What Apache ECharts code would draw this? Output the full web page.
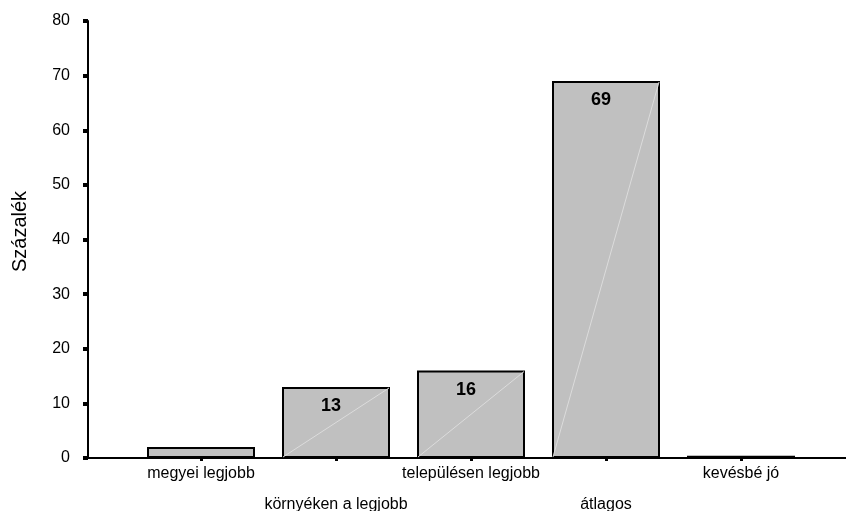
<!DOCTYPE html>
<html><head><meta charset="utf-8">
<script src="https://cdn.jsdelivr.net/npm/echarts@6/dist/echarts.min.js"></script>
<style>html,body{margin:0;padding:0;background:#fff}#c{width:846px;height:511px}</style>
</head><body><div id="c"></div>
<script>
const categories = ['megyei legjobb', 'környéken a legjobb', 'településen legjobb', 'átlagos', 'kevésbé jó'];
const values = [2, 13, 16, 69, 0.4];
const shownLabels = [false, true, true, true, false];
const yTicks = [0, 10, 20, 30, 40, 50, 60, 70, 80];
const yName = 'Százalék';

const FONT = 'Liberation Sans, Arial, sans-serif';
const chart = echarts.init(document.getElementById('c'), null, {renderer: 'canvas'});
const BW = 108;
chart.setOption({
  animation: false,
  grid: [
    {left: 133.5, right: 37.5, top: 21, bottom: 53, containLabel: false, outerBoundsMode: 'none'},
    {left: 88, right: 0, top: 21, bottom: 53, containLabel: false, outerBoundsMode: 'none'}
  ],
  xAxis: [
    {type: 'category', gridIndex: 0, data: categories, boundaryGap: true,
     axisLine: {show: false},
     axisTick: {show: true, alignWithLabel: true, length: 3, lineStyle: {color: '#000', width: 3}},
     axisLabel: {color: '#000', fontFamily: FONT, fontSize: 16, lineHeight: 31, margin: 0, interval: 0,
       formatter: (v, i) => (i % 2 === 1 ? '\n' + v : v)},
     splitLine: {show: false}},
    {type: 'value', gridIndex: 1, min: 0, max: 1,
     axisLine: {show: true, onZero: false, lineStyle: {color: '#000', width: 2}},
     axisTick: {show: false}, axisLabel: {show: false}, splitLine: {show: false}}
  ],
  yAxis: [
    {type: 'value', gridIndex: 0, min: 0, max: 80, show: false, splitLine: {show: false}},
    {type: 'value', gridIndex: 1, min: yTicks[0], max: yTicks[yTicks.length - 1], interval: 10,
     name: yName, nameLocation: 'middle', nameGap: 58,
     nameTextStyle: {color: '#000', fontFamily: FONT, fontSize: 20, padding: [0, 0, 0, 16]},
     axisLine: {show: true, lineStyle: {color: '#000', width: 2}},
     axisTick: {show: true, length: 5, lineStyle: {color: '#000', width: 4}},
     axisLabel: {color: '#000', fontFamily: FONT, fontSize: 16, margin: 18},
     splitLine: {show: false}}
  ],
  series: [
    {type: 'bar', xAxisIndex: 0, yAxisIndex: 0, barWidth: BW,
     data: values.map((v, i) => ({value: v, label: {show: shownLabels[i]}})),
     itemStyle: {color: '#c0c0c0', borderColor: '#000', borderWidth: 2},
     label: {position: 'insideTop', distance: 10, offset: [-5, 0], color: '#000',
       fontFamily: FONT, fontSize: 18, fontWeight: 'bold'},
     z: 2},
    {type: 'custom', xAxisIndex: 0, yAxisIndex: 0, z: 3, silent: true,
     data: values.map((v, i) => [i, v]),
     renderItem: function (params, api) {
       const i = api.value(0), v = api.value(1);
       const p0 = api.coord([i, 0]);
       const p1 = api.coord([i, v]);
       if (p0[1] - p1[1] < 20) return null;
       return {type: 'line', shape: {x1: p0[0] - BW / 2 + 1, y1: p0[1] - 1, x2: p1[0] + BW / 2 - 1, y2: p1[1] + 1},
         style: {stroke: '#dcdcdc', lineWidth: 1}};
     }}
  ]
});
</script></body></html>
